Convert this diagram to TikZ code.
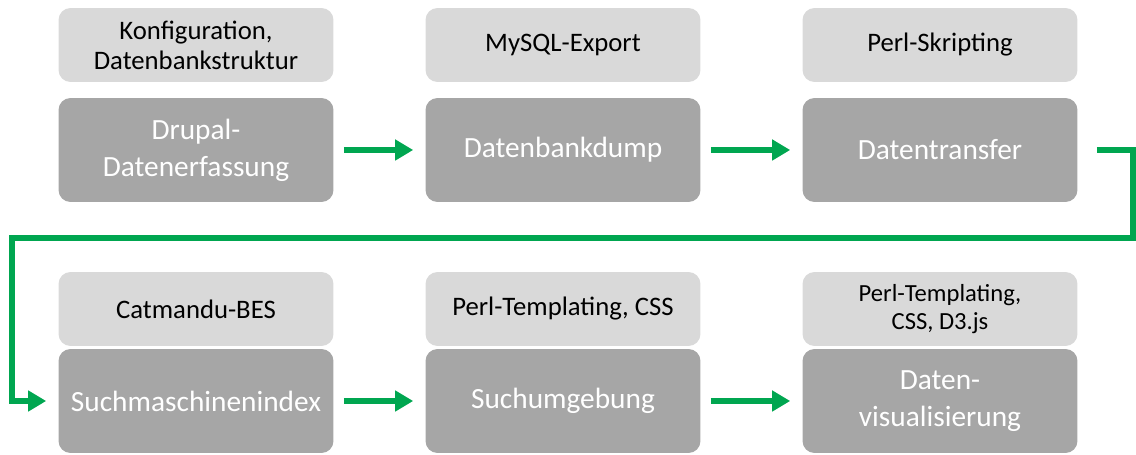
\documentclass[tikz,border=0pt]{standalone}
\usepackage{fontspec}
\setmainfont{Carlito}
\usetikzlibrary{arrows.meta}
\definecolor{toolgray}{HTML}{D9D9D9}
\definecolor{stagegray}{HTML}{A6A6A6}
\definecolor{flowgreen}{RGB}{0,166,80}

\begin{document}
\begin{tikzpicture}[x=0.02cm, y=-0.02cm,
  tool/.style={fill=toolgray, rounded corners=0.24cm, minimum width=5.5cm,
    minimum height=1.48cm, inner sep=0pt, align=center,
    font=\fontsize{15.2}{17}\selectfont},
  stage/.style={fill=stagegray, rounded corners=0.24cm, minimum width=5.5cm,
    minimum height=2.08cm, inner sep=0pt, align=center, text=white,
    font=\fontsize{16.7}{21}\selectfont},
  flow/.style={draw=flowgreen, line width=0.12cm,
    -{Triangle[length=0.36cm,width=0.4cm]},
    shorten <=0.2cm, shorten >=0.24cm}]
\useasboundingbox (0,0) rectangle (1136,455);

% top row
\node [tool] (konf) at (196,45) {Konfiguration,\\Datenbankstruktur};
\node [tool] (mysql) at (563,45) {MySQL-Export};
\node [tool] (perl) at (940,45) {Perl-Skripting};
\node [stage] (drupal) at (196,150) {Drupal-\\Datenerfassung};
\node [stage] (dump) at (563,150) {Datenbankdump};
\node [stage] (transfer) at (940,150) {Datentransfer};

% bottom row
\node [tool] (catm) at (196,309) {Catmandu-BES};
\node [tool] (tmpl) at (563,309) {Perl-Templating, CSS};
\node [tool, font=\fontsize{14}{16}\selectfont] (tmpljs) at (940,309)
    {Perl-Templating,\\CSS, D3.js};
\node [stage] (index) at (196,401) {Suchmaschinenindex};
\node [stage] (suche) at (563,401) {Suchumgebung};
\node [stage] (visu) at (940,401) {Daten-\\visualisierung};

% arrows
\draw [flow] (drupal) -- (dump);
\draw [flow] (dump) -- (transfer);
\coordinate (turnR) at (1133,238);
\coordinate (turnL) at (12,238);
\draw [flow, shorten <=0.38cm] (transfer.east) -| (turnR) -- (turnL)
    |- (index.west);
\draw [flow] (index) -- (suche);
\draw [flow] (suche) -- (visu);
\end{tikzpicture}
\end{document}
